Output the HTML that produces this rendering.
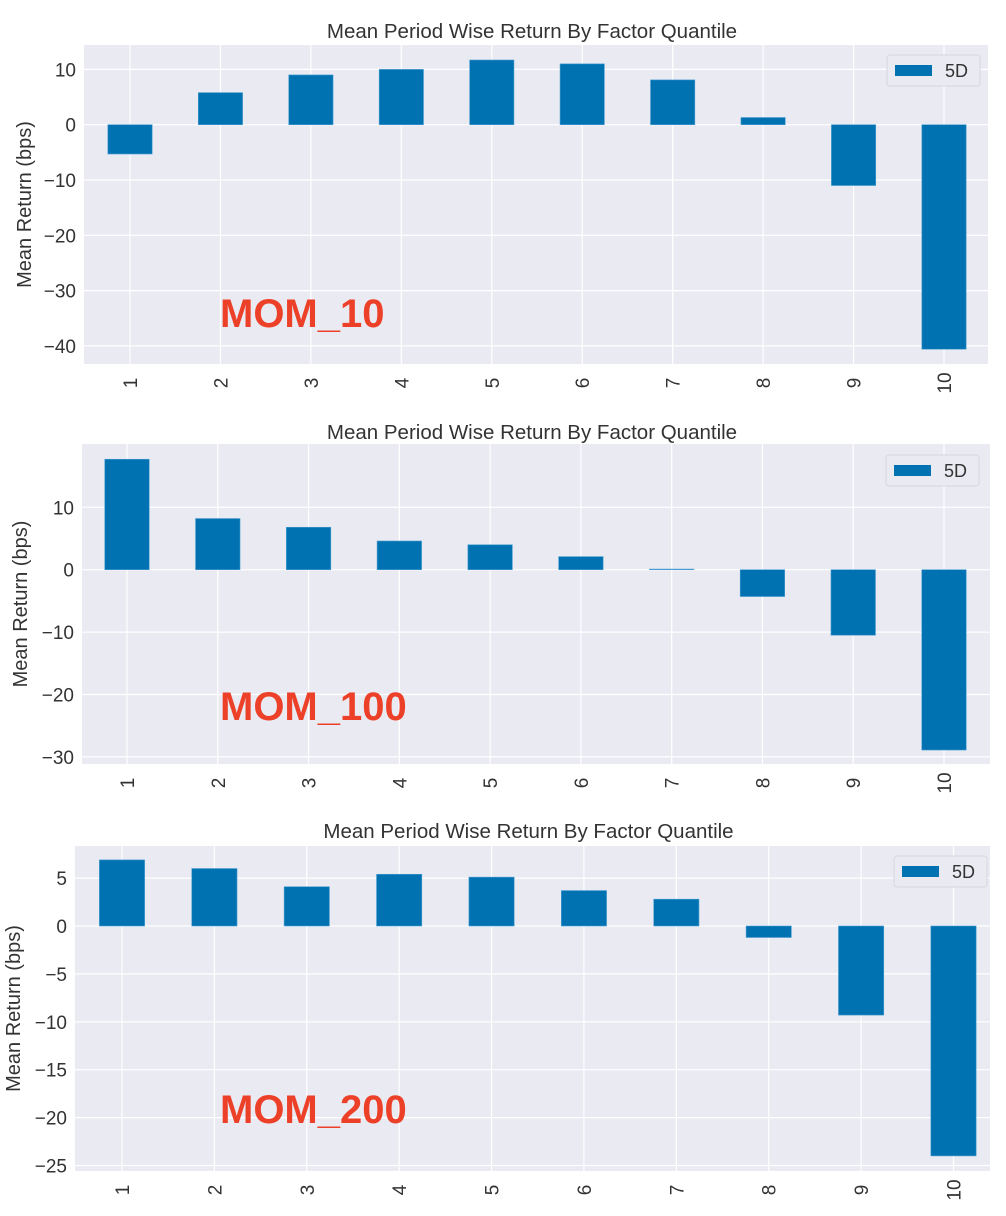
<!DOCTYPE html>
<html><head><meta charset="utf-8"><style>
body{margin:0;background:#fff;width:1006px;height:1211px;overflow:hidden;font-family:"Liberation Sans",sans-serif}
</style></head><body>
<svg id="svg" width="1006" height="1211" xmlns="http://www.w3.org/2000/svg"></svg>
<script>
const categories = ["1","2","3","4","5","6","7","8","9","10"];
const mom10Values = [-5.3, 5.8, 9.0, 10.0, 11.7, 11.0, 8.1, 1.3, -11.0, -40.6];
const mom100Values = [17.7, 8.2, 6.8, 4.6, 4.0, 2.1, 0.1, -4.3, -10.5, -28.9];
const mom200Values = [6.9, 6.0, 4.1, 5.4, 5.1, 3.7, 2.8, -1.2, -9.3, -24.0];
const mom10Ticks = [10, 0, -10, -20, -30, -40];
const mom100Ticks = [10, 0, -10, -20, -30];
const mom200Ticks = [5, 0, -5, -10, -15, -20, -25];
const chartTitle = "Mean Period Wise Return By Factor Quantile";
const legendLabel = "5D";

const NS = "http://www.w3.org/2000/svg";
const svg = document.getElementById('svg');
function mk(tag, attrs, parent, text){
  const e = document.createElementNS(NS, tag);
  for (const k in attrs) e.setAttribute(k, attrs[k]);
  if (text !== undefined) e.textContent = text;
  (parent || svg).appendChild(e);
  return e;
}

function drawChart(cfg, values, ticks){
  const g = mk('g', {});
  
  
  const y = v => cfg.zeroY - v * cfg.pxPerUnit;
  const x = i => cfg.c1 + i * (cfg.c10 - cfg.c1) / (categories.length - 1);
  const spacing = (cfg.c10 - cfg.c1) / (categories.length - 1);
  const bw = spacing * 0.49;
  const bg = mk('rect', {x: cfg.left, y: cfg.top, width: cfg.right - cfg.left, height: cfg.bottom - cfg.top, fill: '#eaeaf2'}, g);
  
  
  ticks.forEach(t => {
    const gl = mk('line', {x1: cfg.left, x2: cfg.right, y1: y(t), y2: y(t), stroke: '#fff', 'stroke-width': 1.2}, g);
    
    
    const tl = mk('text', {x: cfg.left - 8, y: y(t) + 7, 'text-anchor': 'end', 'font-size': 19, fill: '#333'}, g, t < 0 ? '\u2212' + Math.abs(t) : String(t));
    
    
  });
  categories.forEach((c, i) => {
    const gl = mk('line', {x1: x(i), x2: x(i), y1: cfg.top, y2: cfg.bottom, stroke: '#fff', 'stroke-width': 1.2}, g);
    
    
    const tl = mk('text', {x: 0, y: 0, 'text-anchor': 'middle', 'font-size': 19, fill: '#333',
      transform: 'translate(' + (x(i) + 7) + ',' + cfg.xLabelY + ') rotate(-90)'}, g, c);
    
    
  });
  values.forEach((v, i) => {
    const y0 = y(Math.max(v, 0)), y1 = y(Math.min(v, 0));
    const b = mk('rect', {x: x(i) - bw / 2, y: y0, width: bw, height: Math.max(y1 - y0, 0.6), fill: '#0072b2', stroke: '#4a9fd0', 'stroke-width': 0.6}, g);
    
    
  });
  const tt = mk('text', {x: (cfg.left + cfg.right) / 2 - 4, y: cfg.titleY, 'text-anchor': 'middle', 'font-size': 20.5, fill: '#333'}, g, chartTitle);
  
  
  const yl = mk('text', {x: 0, y: 0, 'text-anchor': 'middle', 'font-size': 20, fill: '#333',
    transform: 'translate(' + cfg.yLabelX + ',' + ((cfg.top + cfg.bottom) / 2) + ') rotate(-90)'}, g, 'Mean Return (bps)');
  
  
  const lg = mk('g', {}, g);
  
  
  mk('rect', {x: cfg.legX, y: cfg.legY, width: 93, height: 31, rx: 3, fill: '#eaeaf2', stroke: '#d6d6de'}, lg);
  const sw = mk('rect', {x: cfg.legX + 8, y: cfg.legY + 10, width: 37, height: 11, fill: '#0072b2'}, lg);
  
  
  const lt = mk('text', {x: cfg.legX + 58, y: cfg.legY + 22, 'font-size': 18, fill: '#333'}, lg, legendLabel);
  
  
  const ml = mk('text', {x: 220, y: cfg.momY, 'font-size': 40, 'font-weight': 'bold', fill: '#ec4028',
    'font-family': '"Liberation Sans",sans-serif'}, g, cfg.label);
  
  
}

drawChart({name:'chart-mom-10', label:'MOM_10', left:84, right:988, top:45, bottom:364, zeroY:124.7, pxPerUnit:5.53,
  c1:130, c10:944, xLabelY:383, titleY:38, yLabelX:31, legX:887, legY:55, momY:327}, mom10Values, mom10Ticks);
drawChart({name:'chart-mom-100', label:'MOM_100', left:82, right:990, top:444, bottom:764, zeroY:569.7, pxPerUnit:6.24,
  c1:127, c10:944, xLabelY:783, titleY:439, yLabelX:27, legX:886, legY:455, momY:720}, mom100Values, mom100Ticks);
drawChart({name:'chart-mom-200', label:'MOM_200', left:75, right:990, top:846, bottom:1171, zeroY:926, pxPerUnit:9.58,
  c1:122, c10:953.5, xLabelY:1190, titleY:838, yLabelX:20, legX:894, legY:856, momY:1123}, mom200Values, mom200Ticks);
</script>
</body></html>
